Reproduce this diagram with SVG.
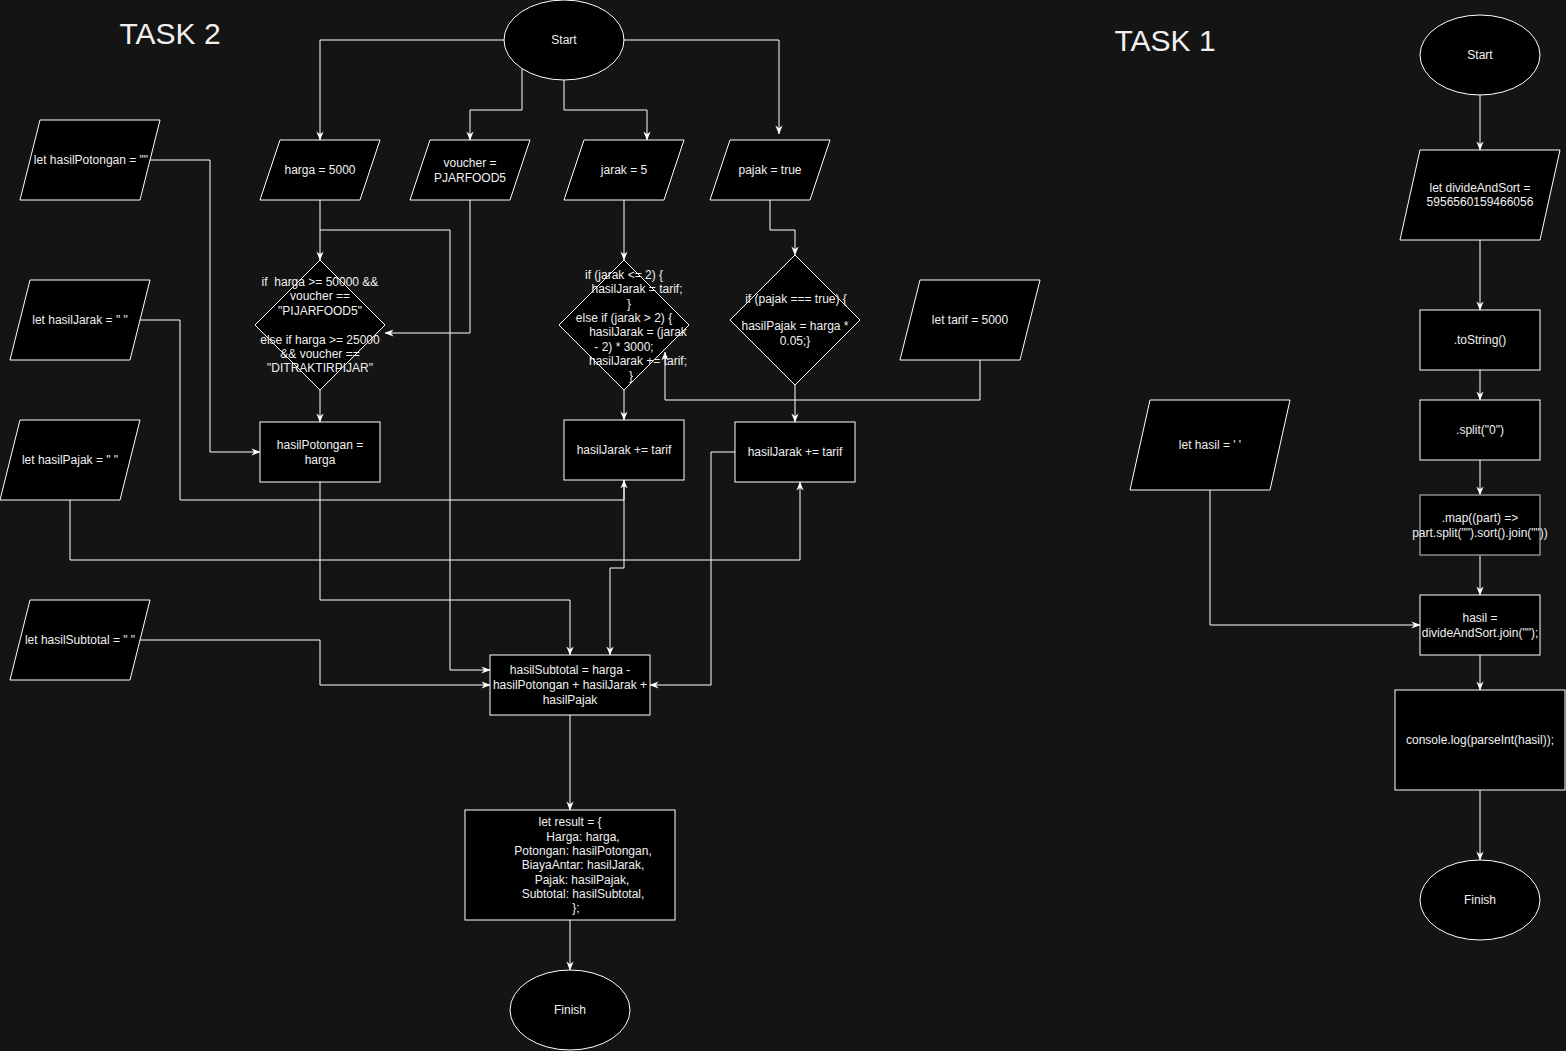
<svg xmlns="http://www.w3.org/2000/svg" width="1566" height="1051" viewBox="0 0 1566 1051">
  <style>
    .bg { fill: #141414; }
    .shape { fill: #000000; stroke: #ffffff; stroke-width: 1; }
    .shape-dim { fill: #000000; stroke: #8a8a8a; stroke-width: 1.5; }
    .lbl { font-family: "Liberation Sans", Helvetica, Arial, sans-serif; font-size: 12px; fill: #f0f0f0; text-anchor: middle; dominant-baseline: central; }
    .title { font-family: "Liberation Sans", Helvetica, Arial, sans-serif; font-size: 30px; fill: #f0f0f0; text-anchor: middle; dominant-baseline: central; }
    .edge { fill: none; stroke: #ffffff; stroke-width: 1; }
  </style>
  <defs>
    <marker id="arr" viewBox="0 0 10 10" refX="9.5" refY="5" markerWidth="9" markerHeight="9" markerUnits="userSpaceOnUse" orient="auto">
      <path d="M0,1 L10,5 L0,9 L3,5 z" fill="#ffffff"/>
    </marker>
  </defs>

  <rect class="bg" x="0" y="0" width="1566" height="1051"/>

  <!-- section headings -->
  <text class="title" x="170" y="33">TASK 2</text>
  <text class="title" x="1165" y="40">TASK 1</text>

  <!-- connectors -->
  <g id="connectors">
    <!-- task 2 -->
    <path class="edge" d="M504,40 L320,40 L320,140" marker-end="url(#arr)"/>
    <path class="edge" d="M522,69 L522,110 L470,110 L470,140" marker-end="url(#arr)"/>
    <path class="edge" d="M564,80 L564,110 L647,110 L647,140" marker-end="url(#arr)"/>
    <path class="edge" d="M624,40 L779,40 L779,134" marker-end="url(#arr)"/>
    <path class="edge" d="M320,200 L320,260" marker-end="url(#arr)"/>
    <path class="edge" d="M320,230 L450,230 L450,670 L490,670" marker-end="url(#arr)"/>
    <path class="edge" d="M470,200 L470,333 L385,333" marker-end="url(#arr)"/>
    <path class="edge" d="M320,390 L320,422" marker-end="url(#arr)"/>
    <path class="edge" d="M320,482 L320,600 L570,600 L570,655" marker-end="url(#arr)"/>
    <path class="edge" d="M150,160 L210,160 L210,452 L260,452" marker-end="url(#arr)"/>
    <path class="edge" d="M140,320 L180,320 L180,500 L624,500 L624,480" marker-end="url(#arr)"/>
    <path class="edge" d="M624,480 L624,568 L610,568 L610,655" marker-end="url(#arr)"/>
    <path class="edge" d="M70,500 L70,560 L800,560 L800,482" marker-end="url(#arr)"/>
    <path class="edge" d="M624,200 L624,260" marker-end="url(#arr)"/>
    <path class="edge" d="M624,390 L624,420" marker-end="url(#arr)"/>
    <path class="edge" d="M980,360 L980,400 L665,400 L665,352" marker-end="url(#arr)"/>
    <path class="edge" d="M770,200 L770,230 L795,230 L795,255" marker-end="url(#arr)"/>
    <path class="edge" d="M795,385 L795,422" marker-end="url(#arr)"/>
    <path class="edge" d="M735,452 L711,452 L711,685 L650,685" marker-end="url(#arr)"/>
    <path class="edge" d="M140,640 L320,640 L320,685 L490,685" marker-end="url(#arr)"/>
    <path class="edge" d="M570,715 L570,810" marker-end="url(#arr)"/>
    <path class="edge" d="M570,920 L570,970" marker-end="url(#arr)"/>
    <!-- task 1 -->
    <path class="edge" d="M1480,95 L1480,150" marker-end="url(#arr)"/>
    <path class="edge" d="M1480,240 L1480,310" marker-end="url(#arr)"/>
    <path class="edge" d="M1480,370 L1480,400" marker-end="url(#arr)"/>
    <path class="edge" d="M1480,460 L1480,495" marker-end="url(#arr)"/>
    <path class="edge" d="M1480,555 L1480,595" marker-end="url(#arr)"/>
    <path class="edge" d="M1480,655 L1480,690" marker-end="url(#arr)"/>
    <path class="edge" d="M1480,790 L1480,860" marker-end="url(#arr)"/>
    <path class="edge" d="M1210,490 L1210,625 L1420,625" marker-end="url(#arr)"/>
  </g>

  <!-- task 2 nodes -->
  <g id="t2-start">
    <ellipse class="shape" cx="564" cy="40" rx="60" ry="40"/>
    <text class="lbl" x="564" y="40">Start</text>
  </g>
  <g id="t2-harga">
    <polygon class="shape" points="280,140 380,140 360,200 260,200"/>
    <text class="lbl" x="320" y="170">harga = 5000</text>
  </g>
  <g id="t2-voucher">
    <polygon class="shape" points="430,140 530,140 510,200 410,200"/>
    <text class="lbl" x="470" y="163">voucher =</text>
    <text class="lbl" x="470" y="178">PJARFOOD5</text>
  </g>
  <g id="t2-jarak">
    <polygon class="shape" points="584,140 684,140 664,200 564,200"/>
    <text class="lbl" x="624" y="170">jarak = 5</text>
  </g>
  <g id="t2-pajak">
    <polygon class="shape" points="730,140 830,140 810,200 710,200"/>
    <text class="lbl" x="770" y="170">pajak = true</text>
  </g>
  <g id="t2-potongan-check">
    <polygon class="shape" points="320,260 385,325 320,390 255,325"/>
    <text class="lbl" x="320" y="282" xml:space="preserve">if  harga &gt;= 50000 &amp;&amp;</text>
    <text class="lbl" x="320" y="296">voucher ==</text>
    <text class="lbl" x="320" y="311">"PIJARFOOD5"</text>
    <text class="lbl" x="320" y="340">else if harga &gt;= 25000</text>
    <text class="lbl" x="320" y="354">&amp;&amp; voucher ==</text>
    <text class="lbl" x="320" y="368">"DITRAKTIRPIJAR"</text>
  </g>
  <g id="t2-jarak-check">
    <polygon class="shape" points="624,260 689,325 624,390 559,325"/>
    <text class="lbl" x="624" y="275">if (jarak &lt;= 2) {</text>
    <text class="lbl" x="637" y="289">hasilJarak = tarif;</text>
    <text class="lbl" x="629" y="304">}</text>
    <text class="lbl" x="624" y="318">else if (jarak &gt; 2) {</text>
    <text class="lbl" x="638" y="332">hasilJarak = (jarak</text>
    <text class="lbl" x="624" y="347">- 2) * 3000;</text>
    <text class="lbl" x="638" y="361">hasilJarak += tarif;</text>
    <text class="lbl" x="631" y="376">}</text>
  </g>
  <g id="t2-pajak-check">
    <polygon class="shape" points="795,255 860,320 795,385 730,320"/>
    <text class="lbl" x="796" y="299">if (pajak === true) {</text>
    <text class="lbl" x="795" y="326">hasilPajak = harga *</text>
    <text class="lbl" x="795" y="341">0.05;}</text>
  </g>
  <g id="t2-tarif">
    <polygon class="shape" points="920,280 1040,280 1020,360 900,360"/>
    <text class="lbl" x="970" y="320">let tarif = 5000</text>
  </g>
  <g id="t2-potongan-set">
    <rect class="shape" x="260" y="422" width="120" height="60"/>
    <text class="lbl" x="320" y="445">hasilPotongan =</text>
    <text class="lbl" x="320" y="460">harga</text>
  </g>
  <g id="t2-jarak-add">
    <rect class="shape" x="564" y="420" width="120" height="60"/>
    <text class="lbl" x="624" y="450">hasilJarak += tarif</text>
  </g>
  <g id="t2-jarak-add2">
    <rect class="shape" x="735" y="422" width="120" height="60"/>
    <text class="lbl" x="795" y="452">hasilJarak += tarif</text>
  </g>
  <g id="t2-let-potongan">
    <polygon class="shape" points="40,120 160,120 140,200 20,200"/>
    <text class="lbl" x="91" y="160">let hasilPotongan = ""</text>
  </g>
  <g id="t2-let-jarak">
    <polygon class="shape" points="30,280 150,280 130,360 10,360"/>
    <text class="lbl" x="80" y="320">let hasilJarak = " "</text>
  </g>
  <g id="t2-let-pajak">
    <polygon class="shape" points="20,420 140,420 120,500 0,500"/>
    <text class="lbl" x="70" y="460">let hasilPajak = " "</text>
  </g>
  <g id="t2-let-subtotal">
    <polygon class="shape" points="30,600 150,600 130,680 10,680"/>
    <text class="lbl" x="80" y="640">let hasilSubtotal = " "</text>
  </g>
  <g id="t2-subtotal">
    <rect class="shape" x="490" y="655" width="160" height="60"/>
    <text class="lbl" x="570" y="670">hasilSubtotal = harga -</text>
    <text class="lbl" x="570" y="685">hasilPotongan + hasilJarak +</text>
    <text class="lbl" x="570" y="700">hasilPajak</text>
  </g>
  <g id="t2-result">
    <rect class="shape" x="465" y="810" width="210" height="110"/>
    <text class="lbl" x="570" y="822">let result = {</text>
    <text class="lbl" x="583" y="837">Harga: harga,</text>
    <text class="lbl" x="583" y="851">Potongan: hasilPotongan,</text>
    <text class="lbl" x="583" y="865">BiayaAntar: hasilJarak,</text>
    <text class="lbl" x="582" y="880">Pajak: hasilPajak,</text>
    <text class="lbl" x="583" y="894">Subtotal: hasilSubtotal,</text>
    <text class="lbl" x="576" y="908">};</text>
  </g>
  <g id="t2-finish">
    <ellipse class="shape" cx="570" cy="1010" rx="60" ry="40"/>
    <text class="lbl" x="570" y="1010">Finish</text>
  </g>

  <!-- task 1 nodes -->
  <g id="t1-start">
    <ellipse class="shape" cx="1480" cy="55" rx="60" ry="40"/>
    <text class="lbl" x="1480" y="55">Start</text>
  </g>
  <g id="t1-input">
    <polygon class="shape" points="1420,150 1560,150 1540,240 1400,240"/>
    <text class="lbl" x="1480" y="188">let divideAndSort =</text>
    <text class="lbl" x="1480" y="202">5956560159466056</text>
  </g>
  <g id="t1-tostring">
    <rect class="shape" x="1420" y="310" width="120" height="60"/>
    <text class="lbl" x="1480" y="340">.toString()</text>
  </g>
  <g id="t1-split">
    <rect class="shape" x="1420" y="400" width="120" height="60"/>
    <text class="lbl" x="1480" y="430">.split("0")</text>
  </g>
  <g id="t1-map">
    <rect class="shape-dim" x="1420" y="495" width="120" height="60"/>
    <text class="lbl" x="1480" y="518">.map((part) =&gt;</text>
    <text class="lbl" x="1480" y="533">part.split("").sort().join(""))</text>
  </g>
  <g id="t1-let-hasil">
    <polygon class="shape" points="1150,400 1290,400 1270,490 1130,490"/>
    <text class="lbl" x="1210" y="445">let hasil = ' '</text>
  </g>
  <g id="t1-join">
    <rect class="shape" x="1420" y="595" width="120" height="60"/>
    <text class="lbl" x="1480" y="618">hasil =</text>
    <text class="lbl" x="1480" y="633">divideAndSort.join("");</text>
  </g>
  <g id="t1-log">
    <rect class="shape" x="1395" y="690" width="170" height="100"/>
    <text class="lbl" x="1480" y="740">console.log(parseInt(hasil));</text>
  </g>
  <g id="t1-finish">
    <ellipse class="shape" cx="1480" cy="900" rx="60" ry="40"/>
    <text class="lbl" x="1480" y="900">Finish</text>
  </g>
</svg>
